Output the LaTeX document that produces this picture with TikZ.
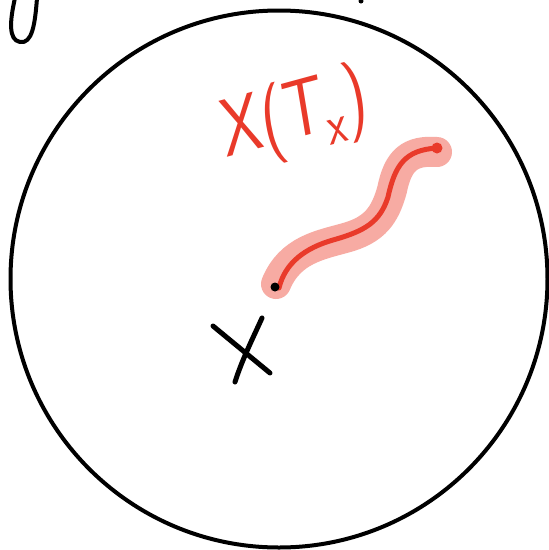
\documentclass[tikz,border=0pt]{standalone}
\usepackage{fontspec}
\definecolor{penred}{HTML}{E93A2A}
\definecolor{halo}{HTML}{F7ABA3}
\tikzset{
  ink/.style={line width=4pt, line cap=round, line join=round},
  redink/.style={line width=5pt, line cap=round, line join=round, color=penred},
  haloink/.style={line width=30pt, line cap=round, line join=round, color=halo},
}
\begin{document}
\begin{tikzpicture}[x=1pt,y=-1pt]
\useasboundingbox (0,0) rectangle (549,550);
\fill[white] (0,0) rectangle (549,550);
% big circle
\draw[ink] (279,279) circle[radius=268.5];
% partial stroke top-left
\draw[ink] (15,-2) .. controls (10,20) and (8,40) .. (20,42) .. controls (32,44) and (35,25) .. (37,-2);
\fill (361,1) circle[radius=2.5];
% halo
\coordinate (h0) at (276,284);
\coordinate (h1) at (437,152);
\draw[haloink] (h0) .. controls (290,250) and (320,245) .. (345,238)
  .. controls (375,230) and (385,215) .. (392,190)
  .. controls (398,160) and (410,150) .. (h1);
% red worm
\coordinate (r0) at (279,288);
\coordinate (r1) at (437,148);
\draw[redink] (r0) .. controls (285,263) and (305,248) .. (333,240)
  .. controls (365,231) and (380,222) .. (388,197)
  .. controls (395,165) and (405,150) .. (r1);
\fill[penred] (r1) circle[radius=5.5];
\fill[black] (275,287) circle[radius=4.5];
% red label
\node[text=penred, font=\sffamily\fontsize{82}{82}\selectfont, inner sep=0pt, xscale=0.78, rotate=12] (lbl) at (295,118) {X(T$_{\mathsf{x}}$)};
% black X
\coordinate (xa) at (213,326);
\coordinate (xb) at (270,373);
\coordinate (xc) at (262,318);
\coordinate (xd) at (235,382);
\draw[ink, line width=5pt] (xa) -- (xb);
\draw[ink, line width=5pt] (xc) .. controls (252,340) and (242,360) .. (xd);
\end{tikzpicture}
\end{document}
